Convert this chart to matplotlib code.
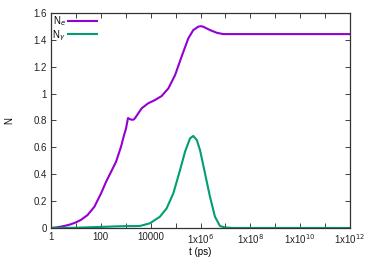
import numpy as np
import matplotlib
matplotlib.use('Agg')
import matplotlib.pyplot as plt

plt.rcParams['font.family'] = ['Liberation Sans', 'DejaVu Sans']

# ── Data (log10 t in ps, N) ─────────────────────────────────────────────
ne_logt = [0.0, 0.20, 0.40, 0.60, 0.80, 1.00, 1.20, 1.47, 1.74, 2.01, 2.21,
           2.41, 2.61, 2.81, 2.93, 3.01, 3.09, 3.17, 3.25, 3.33, 3.40, 3.50,
           3.64, 3.90, 4.17, 4.44, 4.71, 4.98, 5.24, 5.51, 5.71, 5.91, 6.01,
           6.11, 6.38, 6.65, 6.91, 7.5, 9.0, 10.5, 12.0]
ne_val = [0.0, 0.004, 0.010, 0.018, 0.028, 0.042, 0.060, 0.097, 0.158, 0.258,
          0.344, 0.418, 0.493, 0.605, 0.690, 0.740, 0.818, 0.810, 0.805,
          0.808, 0.825, 0.853, 0.891, 0.928, 0.952, 0.982, 1.039, 1.138,
          1.275, 1.411, 1.473, 1.498, 1.502, 1.498, 1.473, 1.453, 1.443,
          1.443, 1.443, 1.443, 1.443]

ng_logt = [0.0, 1.0, 2.0, 2.6, 3.05, 3.3, 3.57, 3.97, 4.37, 4.64, 4.91,
           5.18, 5.38, 5.58, 5.71, 5.85, 5.98, 6.18, 6.38, 6.58, 6.78, 6.98,
           7.3, 9.0, 12.0]
ng_val = [0.0, 0.002, 0.008, 0.012, 0.014, 0.014, 0.015, 0.035, 0.084, 0.146,
          0.258, 0.432, 0.568, 0.667, 0.685, 0.655, 0.58, 0.407, 0.233,
          0.084, 0.015, 0.004, 0.0, 0.0, 0.0]

xtick_exp = list(range(0, 13))
xtick_labels = ['1', '', '100', '', '10000', '', r'1x10$^{6}$', '',
                r'1x10$^{8}$', '', r'1x10$^{10}$', '', r'1x10$^{12}$']
yticks = [0, 0.2, 0.4, 0.6, 0.8, 1, 1.2, 1.4, 1.6]
ytick_labels = ['0', '0.2', '0.4', '0.6', '0.8', '1', '1.2', '1.4', '1.6']

# ── Figure ──────────────────────────────────────────────────────────────
fig = plt.figure(figsize=(3.74, 2.62), dpi=100)
ax = fig.add_axes([0.1364, 0.1298, 0.7994, 0.8206])

ax.plot(10.0 ** np.array(ne_logt), ne_val, color='#9400D3', lw=1.5,
        solid_joinstyle='round', label=r'N$_e$')
ax.plot(10.0 ** np.array(ng_logt), ng_val, color='#009E73', lw=1.5,
        solid_joinstyle='round', label=r'N$_\gamma$')

ax.set_xscale('log')
ax.set_xlim(1, 1e12)
ax.set_ylim(0, 1.6)
ax.set_xticks([10.0 ** e for e in xtick_exp])
ax.set_xticklabels(xtick_labels)
ax.minorticks_off()
ax.set_yticks(yticks)
ax.set_yticklabels(ytick_labels)

ax.tick_params(direction='in', length=3.5, width=0.6, top=True, right=True,
               labelsize=7, pad=3, colors='#222222')
for s in ax.spines.values():
    s.set_linewidth(0.9)
    s.set_color('#333333')

ax.set_xlabel('t (ps)', fontsize=7, labelpad=1)
ax.set_ylabel('N', fontsize=7, labelpad=14)

ax.legend(loc='upper left', frameon=False, markerfirst=False, fontsize=7,
          handlelength=3.0, handletextpad=0.2, labelspacing=0.0,
          borderaxespad=0.0, borderpad=0.15)

fig.savefig('out.png', dpi=100, facecolor='white')
plt.close(fig)
